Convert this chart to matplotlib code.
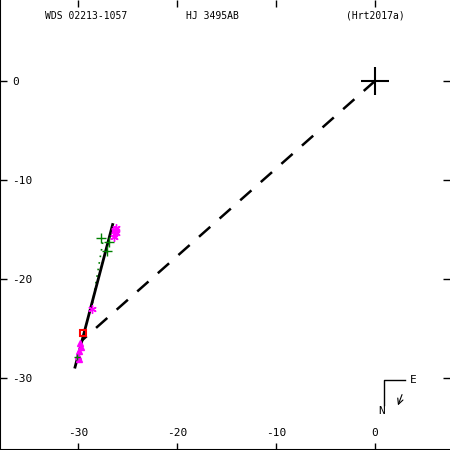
import numpy as np
import matplotlib
matplotlib.use("Agg")
import matplotlib.pyplot as plt

# orbit fit segment
fit_x = [-30.3, -26.5]
fit_y = [-28.9, -14.5]
# line from primary to predicted position
dash_x = [0.0, -29.6]
dash_y = [0.0, -26.2]
# observations
star_x = [-26.3, -26.2, -26.4, -26.3, -26.2, -28.6]
star_y = [-15.0, -15.4, -15.8, -15.2, -14.8, -23.0]
tri_x = [-29.8, -29.9, -30.0, -29.9, -29.7]
tri_y = [-26.5, -27.3, -27.8, -28.1, -26.9]
plus_x = [-27.7, -26.9, -27.1]
plus_y = [-15.9, -16.3, -17.2]
small_plus_x = [-30.1]
small_plus_y = [-27.9]
dot_x = [-27.5, -28.6]
dot_y = [-16.3, -22.8]
red_x = [-29.5]
red_y = [-25.5]

fig = plt.figure(figsize=(4.5, 4.5), dpi=100)
ax = fig.add_axes([0, 0, 1, 1])
ax.set_xlim(-37.88, 7.58)
ax.set_ylim(-37.27, 8.18)

ax.plot(dash_x, dash_y, color="black", lw=1.8, ls=(0, (6, 5)))
ax.plot(dot_x, dot_y, color="green", lw=1.2, ls=(0, (1, 3)))
ax.plot(fit_x, fit_y, color="black", lw=2)
ax.plot(star_x, star_y, ls="none", marker=(6, 2, 0), color="magenta", ms=6, mew=1)
ax.plot(tri_x, tri_y, ls="none", marker="^", color="magenta", ms=4)
ax.plot(plus_x, plus_y, ls="none", marker="+", color="green", ms=7, mew=1)
ax.plot(small_plus_x, small_plus_y, ls="none", marker="+", color="green", ms=4, mew=1)
ax.plot(red_x, red_y, ls="none", marker="s", mfc="none", mec="red", ms=4, mew=1.5)
ax.plot([0], [0], ls="none", marker="+", color="black", ms=20, mew=1.5)

ticks = [-30, -20, -10, 0]
ax.set_xticks(ticks)
ax.set_yticks(ticks)
ax.set_xticklabels([str(t) for t in ticks])
ax.set_yticklabels([str(t) for t in ticks])
ax.tick_params(direction="in", length=5, width=1, top=True, right=True,
               labelsize=8, pad=-9)
for lab in ax.get_yticklabels():
    lab.set_horizontalalignment("left")
for lab in ax.get_xticklabels():
    lab.set_verticalalignment("bottom")
for lab in ax.get_xticklabels() + ax.get_yticklabels():
    lab.set_family("DejaVu Sans Mono")
ax.spines["top"].set_visible(False)
ax.spines["right"].set_visible(False)
ax.spines["left"].set_linewidth(1.5)
ax.spines["bottom"].set_linewidth(1.5)

# header
tfont = dict(family="DejaVu Sans Mono", fontsize=7, va="center", transform=ax.transAxes)
ax.text(86 / 450, 1 - 16 / 450, "WDS 02213-1057", ha="center", **tfont)
ax.text(212 / 450, 1 - 16 / 450, "HJ 3495AB", ha="center", **tfont)
ax.text(375 / 450, 1 - 16 / 450, "(Hrt2017a)", ha="center", **tfont)

# N/E indicator
ax.plot([384 / 450, 384 / 450, 405 / 450], [1 - 405 / 450, 1 - 380 / 450, 1 - 380 / 450],
        color="black", lw=1, transform=ax.transAxes)
ax.text(413 / 450, 1 - 380 / 450, "E", ha="center", va="center", fontsize=8,
        family="DejaVu Sans Mono", transform=ax.transAxes)
ax.text(382 / 450, 1 - 411 / 450, "N", ha="center", va="center", fontsize=8,
        family="DejaVu Sans Mono", transform=ax.transAxes)
ax.annotate("", xy=(397 / 450, 1 - 408 / 450), xytext=(403 / 450, 1 - 392 / 450),
            xycoords="axes fraction",
            arrowprops=dict(arrowstyle="->", color="black", lw=0.8))

fig.savefig("out.png", dpi=100)
